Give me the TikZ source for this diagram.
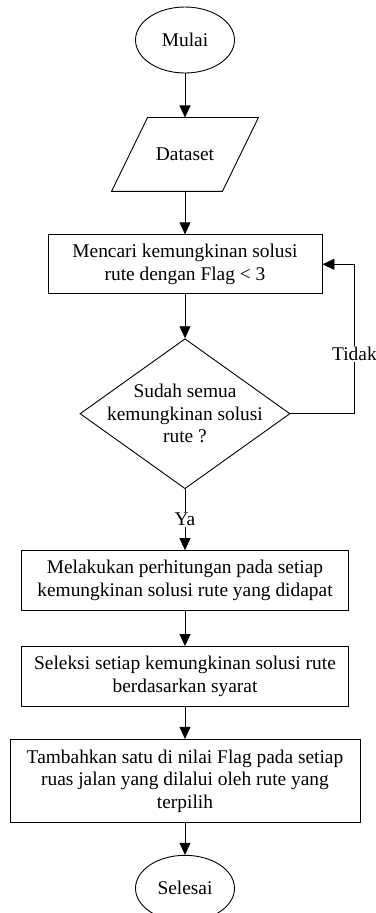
\documentclass[tikz,border=0pt]{standalone}
\usepackage{fontspec}
\setmainfont{Liberation Serif}
\usetikzlibrary{shapes.geometric,arrows.meta,positioning}

\begin{document}
\begin{tikzpicture}[
    font=\fontsize{19.4}{22.5}\selectfont,
    line width=0.9pt,
    terminal/.style={draw, ellipse, minimum width=99pt, minimum height=66pt, inner sep=0pt},
    data/.style={rectangle, minimum width=110pt, minimum height=73pt, inner sep=0pt},
    process/.style={draw, rectangle, minimum height=59pt, inner sep=0pt, align=center},
    decision/.style={draw, diamond, aspect=1.4, minimum width=210pt, minimum height=150pt, inner sep=-12pt, align=center},
    arrow/.style={-{Triangle[length=12pt,width=11pt]}}
]
    \useasboundingbox (0,0) rectangle (375pt,-913pt);

    % Nodes
    \node[terminal] (mulai) at (185pt,-40pt) {Mulai};
    \node[data, below=44pt of mulai] (dataset) {Dataset};
    \draw ([xshift=18pt]dataset.north west) -- ([xshift=18pt]dataset.north east)
        -- ([xshift=-18pt]dataset.south east) -- ([xshift=-18pt]dataset.south west) -- cycle;
    \node[process, minimum width=274pt, below=43pt of dataset] (cari) {Mencari kemungkinan solusi\\rute dengan Flag < 3};
    \node[decision, below=44pt of cari] (cek) {Sudah semua\\kemungkinan solusi\\rute ?};
    \node[process, minimum width=327pt, minimum height=60pt, below=61pt of cek] (hitung) {Melakukan perhitungan pada setiap\\kemungkinan solusi rute yang didapat};
    \node[process, minimum width=327pt, minimum height=60pt, below=35pt of hitung] (seleksi) {Seleksi setiap kemungkinan solusi rute\\berdasarkan syarat};
    \node[process, minimum width=350pt, minimum height=83pt, below=32pt of seleksi] (tambah) {Tambahkan satu di nilai Flag pada setiap\\ruas jalan yang dilalui oleh rute yang\\terpilih};
    \node[terminal, below=32pt of tambah] (selesai) {Selesai};

    % Connectors
    \draw[arrow] (mulai) -- (dataset);
    \draw[arrow] (dataset) -- (cari);
    \draw[arrow] (cari) -- (cek);
    \draw[arrow] (cek) -- node[fill=white, inner sep=1pt] {Ya} (hitung);
    \draw[arrow] (cek.east) -- ++(64pt,0) |- node[pos=0.2, fill=white, inner sep=1pt] {Tidak} (cari.east);
    \draw[arrow] (hitung) -- (seleksi);
    \draw[arrow] (seleksi) -- (tambah);
    \draw[arrow] (tambah) -- (selesai);
\end{tikzpicture}
\end{document}
